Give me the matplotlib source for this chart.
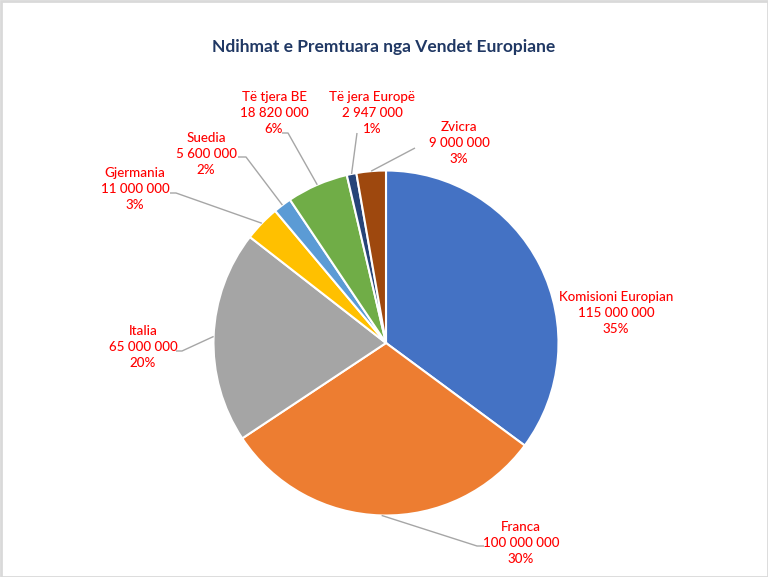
import numpy as np
import matplotlib
matplotlib.use("Agg")
import matplotlib.pyplot as plt
from matplotlib.patches import Rectangle

W, H = 768, 577

# Te dhenat
vendet = ["Komisioni Europian", "Franca", "Italia", "Gjermania", "Suedia",
          "Të tjera BE", "Të jera Europë", "Zvicra"]
shumat = [115000000, 100000000, 65000000, 11000000, 5600000,
          18820000, 2947000, 9000000]
perqindjet = ["35%", "30%", "20%", "3%", "2%", "6%", "1%", "3%"]
ngjyrat = ["#4472C4", "#ED7D31", "#A5A5A5", "#FFC000", "#5B9BD5",
           "#70AD47", "#264478", "#9E480E"]

# pozicionet e etiketave (piksel, y poshte)
etiketa_pos = [(616, 313), (521, 543), (143, 347), (135, 189),
               (206, 154), (274, 113), (372, 113), (459, 143)]
# fillimi i vijes udhezuese (None = pa vije), dhe gjatesia e cungut horizontal
vija_fillim = [None, (484, 546), (176, 351), (170, 193),
               (238, 157), (282, 133), (357, 133), (415, 148)]
cungu = [0, -7, 6, 6, 8, 6, 0, 0]

cx, cy, r = 386, 343, 172.5

plt.rcParams["font.family"] = ["Lato", "DejaVu Sans"]

fig = plt.figure(figsize=(W / 100, H / 100), dpi=100)
ax = fig.add_axes([0, 0, 1, 1])

wedges, _ = ax.pie(
    shumat,
    colors=ngjyrat,
    startangle=90,
    counterclock=False,
    center=(cx, H - cy),
    radius=r,
    wedgeprops=dict(edgecolor="white", linewidth=1.5),
    frame=True,
)
ax.set_xlim(0, W)
ax.set_ylim(0, H)
ax.axis("off")

for i, w in enumerate(wedges):
    tekst = vendet[i] + "\n" + f"{shumat[i]:,}".replace(",", " ") + "\n" + perqindjet[i]
    x, y = etiketa_pos[i]
    ax.text(x, H - y, tekst, ha="center", va="center", color="#FF0000",
            fontsize=9.6, linespacing=1.42, fontweight="medium")
    if vija_fillim[i] is not None:
        mid = np.deg2rad((w.theta1 + w.theta2) / 2)
        ex = cx + r * np.cos(mid)
        ey = (H - cy) + r * np.sin(mid)
        sx, sy = vija_fillim[i]
        xs = [sx, sx + cungu[i], ex]
        ys = [H - sy, H - sy, ey]
        ax.plot(xs, ys, color="#A6A6A6", linewidth=1, solid_capstyle="butt")

ax.text(384, H - 47, "Ndihmat e Premtuara nga Vendet Europiane",
        ha="center", va="center", fontsize=12.5, fontweight="bold",
        color="#203864")

fig.patches.append(Rectangle((0.5, 0.5), W - 1, H - 1, transform=None,
                             fill=False, edgecolor="#D9D9D9", linewidth=2))

plt.savefig("out.png", dpi=100)
plt.close()
